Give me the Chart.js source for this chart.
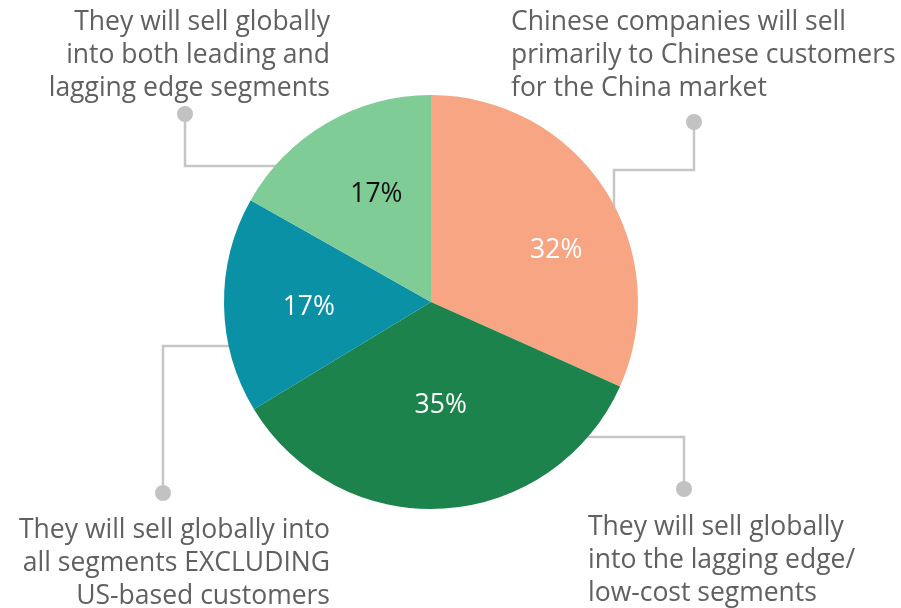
<!DOCTYPE html>
<html>
<head>
<meta charset="utf-8">
<script src="https://cdn.jsdelivr.net/npm/chart.js@4.4.1/dist/chart.umd.min.js"></script>
<style>
  html, body { margin: 0; padding: 0; background: #fff; }
  #wrap { width: 901px; height: 608px; position: relative; }
</style>
</head>
<body>
<div id="wrap"><canvas id="pie-chart"></canvas></div>
<script>
// survey answers, clockwise from 12 o'clock
const answers = [
  ["Chinese companies will sell", "primarily to Chinese customers", "for the China market"],
  ["They will sell globally", "into the lagging edge/", "low-cost segments"],
  ["They will sell globally into", "all segments EXCLUDING", "US-based customers"],
  ["They will sell globally", "into both leading and", "lagging edge segments"],
];
const shares = [32, 35, 17, 17];

const sliceColors = ["#f8a584", "#1b834b", "#0a91a5", "#80cc97"];
const pctColors = ["#ffffff", "#ffffff", "#ffffff", "#111111"];

// nudges for the percent labels (px, from 0.6 of the radius on the mid angle)
const pctNudge = [[21, 16], [2, -21], [2, 4], [8, 0]];

// callout layout per answer: elbow path relative to pie centre, dot, text block
const callouts = [
  { path: [[183, 0], [183, -132], [263, -132], [263, -180]], text: { x: 511, y: 22, align: "left" } },
  { path: [[0, 135], [253, 135], [253, 187]], text: { x: 588, y: 527, align: "left" } },
  { path: [[0, 44], [-268, 44], [-268, 191]], text: { x: 330, y: 530, align: "right" } },
  { path: [[-150, -136], [-246, -136], [-246, -188]], text: { x: 330, y: 22, align: "right" } },
];

const FONT = "'Open Sans', sans-serif";

const calloutPlugin = {
  id: "callouts",
  beforeDatasetsDraw(chart) {
    const arc = chart.getDatasetMeta(0).data[0];
    const cx = arc.x, cy = arc.y;
    const c = chart.ctx;
    c.save();
    c.strokeStyle = "#c6c6c6";
    c.fillStyle = "#c2c2c2";
    c.lineWidth = 2.5;
    callouts.forEach((co) => {
      const p = co.path;
      c.beginPath();
      c.moveTo(cx + p[0][0], cy + p[0][1]);
      for (let i = 1; i < p.length; i++) c.lineTo(cx + p[i][0], cy + p[i][1]);
      c.stroke();
      const end = p[p.length - 1];
      c.beginPath();
      c.arc(cx + end[0], cy + end[1], 8, 0, Math.PI * 2);
      c.fill();
    });
    c.restore();
  },
  afterDraw(chart) {
    const c = chart.ctx;
    const meta = chart.getDatasetMeta(0);
    c.save();
    c.textBaseline = "middle";
    c.font = "26.5px " + FONT;
    c.fillStyle = "#606060";
    callouts.forEach((co, i) => {
      c.textAlign = co.text.align;
      answers[i].forEach((line, j) => {
        c.fillText(line, co.text.x, co.text.y + j * 33);
      });
    });
    // percent labels inside slices
    c.textAlign = "center";
    meta.data.forEach((a, i) => {
      const mid = (a.startAngle + a.endAngle) / 2;
      const r = a.outerRadius * 0.6;
      const x = a.x + Math.cos(mid) * r + pctNudge[i][0];
      const y = a.y + Math.sin(mid) * r + pctNudge[i][1];
      c.fillStyle = pctColors[i];
      c.fillText(shares[i] + "%", x, y);
    });
    c.restore();
  },
};

var ctx = document.getElementById("pie-chart");
new Chart(ctx, {
  type: "pie",
  data: {
    labels: answers.map((a) => a.join(" ")),
    datasets: [
      {
        data: shares,
        backgroundColor: sliceColors,
        borderWidth: 0,
      },
    ],
  },
  options: {
    responsive: true,
    maintainAspectRatio: false,
    animation: false,
    layout: {
      padding: { left: 224, right: 263, top: 95, bottom: 99 },
    },
    plugins: {
      legend: { display: false },
      tooltip: { enabled: false },
    },
  },
  plugins: [calloutPlugin],
});
</script>
</body>
</html>
